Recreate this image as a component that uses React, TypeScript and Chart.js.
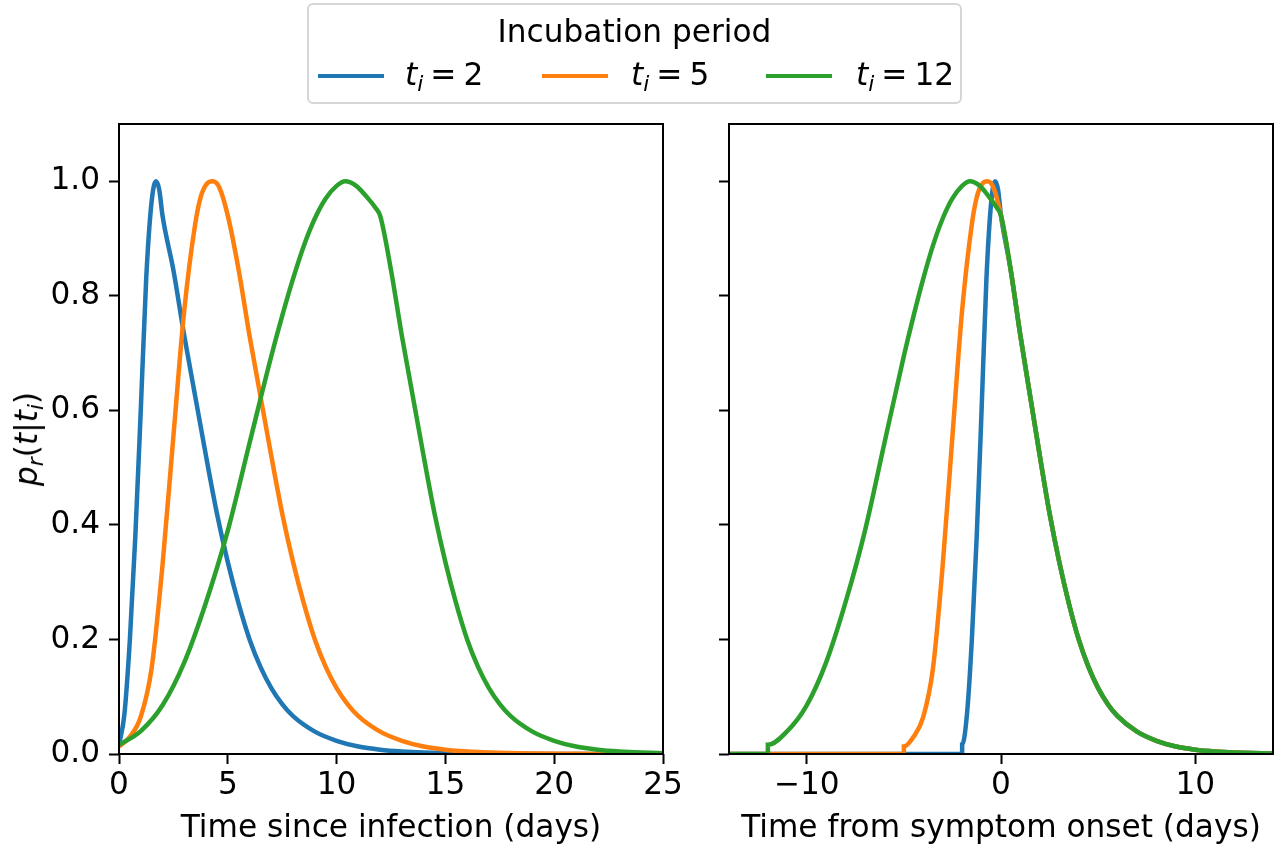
import React, { useEffect, useRef } from 'react';
import { Chart, registerables } from 'chart.js';

Chart.register(...registerables);

const FONT_FAMILY = 'DejaVu Sans';
const FONT_SIZE = 31.2;

const legendTitle = 'Incubation period';
const incubationPeriods = [2, 5, 12];
const seriesColors = ['#1f77b4', '#ff7f0e', '#2ca02c'];

// Before symptom onset (t from 0 up to t_i), read per series
const riseTimeBlue = [0, 0.25, 0.5, 0.75, 1, 1.25, 1.5, 1.7, 1.85];
const riseProbBlue = [0.016, 0.07, 0.2, 0.38, 0.6, 0.83, 0.965, 1.0, 0.985];

const riseTimeOrange = [0, 0.5, 1, 1.5, 2, 2.5, 3, 3.5, 3.75, 4, 4.3, 4.6];
const riseProbOrange = [0.013, 0.03, 0.065, 0.15, 0.33, 0.555, 0.775, 0.925, 0.972, 0.994, 1.0, 0.99];

const riseTimeGreen = [0, 1, 2, 3, 4, 5, 6, 7, 7.5, 8, 8.5, 9, 9.5, 10, 10.4, 10.9, 11.4, 11.8];
const riseProbGreen = [0.016, 0.04, 0.085, 0.16, 0.265, 0.39, 0.543, 0.695, 0.765, 0.83, 0.888, 0.935, 0.97, 0.992, 1.0, 0.992, 0.972, 0.953];

// After symptom onset (days since onset), the three curves coincide
const postOnsetDays = [0, 0.5, 1, 1.5, 2, 2.5, 3, 3.5, 4, 4.5, 5, 5.5, 6, 7, 8, 9, 10, 11, 12, 14, 16, 18, 20, 24];
const postOnsetProb = [0.94, 0.845, 0.73, 0.625, 0.52, 0.42, 0.335, 0.262, 0.2, 0.152, 0.115, 0.087, 0.066, 0.039, 0.023, 0.013, 0.0075, 0.0043, 0.0025, 0.0008, 0.0003, 0.0001, 0, 0];

const riseTimes = [riseTimeBlue, riseTimeOrange, riseTimeGreen];
const riseProbs = [riseProbBlue, riseProbOrange, riseProbGreen];

const leftXTicks = [0, 5, 10, 15, 20, 25];
const rightXTicks = [-10, 0, 10];
const yTicks = [0, 0.2, 0.4, 0.6, 0.8, 1.0];
const leftXRange = [0, 25];
const rightXRange = [-14, 14];
const yRange = [0, 1.1];
const preOnsetStart = -15;
const leftXLabel = 'Time since infection (days)';
const rightXLabel = 'Time from symptom onset (days)';

const font = { family: FONT_FAMILY, size: FONT_SIZE };

const framePlugin = {
  id: 'frame',
  afterDatasetsDraw(chart: any) {
    const { ctx, chartArea } = chart;
    const { left, top, right, bottom } = chartArea;
    ctx.save();
    ctx.strokeStyle = '#000';
    ctx.lineWidth = 2;
    ctx.strokeRect(left, top, right - left, bottom - top);
    ctx.restore();
  },
};

function fmtX(v: number) {
  return v < 0 ? '\u2212' + Math.abs(v) : String(v);
}

// points in "time since infection"
function seriesPoints(k: number) {
  const ti = incubationPeriods[k];
  const rise = riseTimes[k].map((t, j) => ({ x: t, y: riseProbs[k][j] }));
  const post = postOnsetDays.map((d, j) => ({ x: d + ti, y: postOnsetProb[j] }));
  return [...rise, ...post];
}

function buildDatasets(side: 'left' | 'right') {
  return incubationPeriods.map((ti, k) => {
    const pts = seriesPoints(k);
    const data =
      side === 'left'
        ? pts
        : [{ x: preOnsetStart, y: 0 }, { x: -ti, y: 0 }, ...pts.map((p) => ({ x: p.x - ti, y: p.y }))];
    return {
      label: 't_i = ' + ti,
      data,
      borderColor: seriesColors[k],
      backgroundColor: seriesColors[k],
      borderWidth: 4.5,
      pointRadius: 0,
      fill: false,
      cubicInterpolationMode: 'monotone' as const,
      clip: 0,
      order: incubationPeriods.length - k,
    };
  });
}

function buildConfig(side: 'left' | 'right'): any {
  const xTicks = side === 'left' ? leftXTicks : rightXTicks;
  const xRange = side === 'left' ? leftXRange : rightXRange;
  const grid = {
    display: true,
    drawOnChartArea: false,
    drawTicks: true,
    tickLength: 10,
    tickWidth: 2,
    tickColor: '#000',
  };
  return {
    type: 'line',
    data: { datasets: buildDatasets(side) },
    plugins: [framePlugin],
    options: {
      animation: false,
      responsive: false,
      maintainAspectRatio: false,
      devicePixelRatio: 1,
      events: [],
      layout: { padding: { left: 0, right: 27, top: 34, bottom: 0 } },
      plugins: { legend: { display: false }, tooltip: { enabled: false } },
      scales: {
        x: {
          type: 'linear',
          min: xRange[0],
          max: xRange[1],
          afterBuildTicks: (s: any) => {
            s.ticks = xTicks.map((v) => ({ value: v }));
          },
          afterFit: (s: any) => {
            s.height = 101;
          },
          ticks: {
            color: '#000',
            font,
            padding: 3,
            maxRotation: 0,
            autoSkip: false,
            callback: (v: any) => fmtX(Number(v)),
          },
          grid,
          border: { display: false },
          title: {
            display: true,
            text: side === 'left' ? leftXLabel : rightXLabel,
            color: '#000',
            font,
            padding: { top: 0, bottom: 7 },
          },
        },
        y: {
          type: 'linear',
          min: yRange[0],
          max: yRange[1],
          afterBuildTicks: (s: any) => {
            s.ticks = yTicks.map((v) => ({ value: v }));
          },
          afterFit: (s: any) => {
            s.width = side === 'left' ? 119 : 69;
          },
          ticks: {
            display: side === 'left',
            color: '#000',
            font,
            padding: 9,
            callback: (v: any) => Number(v).toFixed(1),
          },
          grid,
          border: { display: false },
        },
      },
    },
  };
}

function Panel({ side, left, width }: { side: 'left' | 'right'; left: number; width: number }) {
  const ref = useRef<HTMLCanvasElement | null>(null);
  useEffect(() => {
    if (!ref.current) return;
    const chart = new Chart(ref.current, buildConfig(side));
    return () => chart.destroy();
  }, [side]);
  return (
    <canvas
      ref={ref}
      width={width}
      height={765}
      style={{ position: 'absolute', left, top: 90, width, height: 765 }}
    />
  );
}

const subStyle: React.CSSProperties = {
  fontSize: '0.7em',
  position: 'relative',
  top: '0.28em',
  fontStyle: 'italic',
};

function MathLabel({ ti }: { ti: number }) {
  return (
    <span style={{ whiteSpace: 'nowrap' }}>
      <i>t</i>
      <span style={subStyle}>i</span>
      <span style={{ margin: '0 7px' }}>=</span>
      {ti}
    </span>
  );
}

const handleLefts = [9, 233, 457];
const textLefts = [96, 322, 547];

export default function App() {
  return (
    <div
      style={{
        position: 'absolute',
        left: 0,
        top: 0,
        width: 1280,
        height: 855,
        background: '#fff',
        overflow: 'hidden',
        fontFamily: FONT_FAMILY,
        color: '#000',
      }}
    >
      <Panel side="left" left={0} width={690} />
      <Panel side="right" left={660} width={640} />
      <div
        style={{
          position: 'absolute',
          left: 28,
          top: 439,
          transform: 'translate(-50%, -50%) rotate(-90deg)',
          fontSize: FONT_SIZE,
          whiteSpace: 'nowrap',
          lineHeight: '36px',
        }}
      >
        <i>p</i>
        <span style={subStyle}>r</span>(<i>t</i>|<i>t</i>
        <span style={subStyle}>i</span>)
      </div>
      <div
        style={{
          position: 'absolute',
          left: 307,
          top: 3,
          width: 655,
          height: 101,
          boxSizing: 'border-box',
          border: '2px solid #d6d6d6',
          borderRadius: 6,
          background: 'rgba(255,255,255,0.8)',
          fontSize: FONT_SIZE,
        }}
      >
        <div
          style={{
            position: 'absolute',
            left: 0,
            right: 0,
            top: 8,
            textAlign: 'center',
            lineHeight: '36px',
          }}
        >
          {legendTitle}
        </div>
        {incubationPeriods.map((ti, k) => (
          <React.Fragment key={ti}>
            <div
              style={{
                position: 'absolute',
                left: handleLefts[k],
                top: 69,
                width: 66,
                height: 4,
                background: seriesColors[k],
              }}
            />
            <div
              style={{
                position: 'absolute',
                left: textLefts[k],
                top: 51,
                lineHeight: '36px',
              }}
            >
              <MathLabel ti={ti} />
            </div>
          </React.Fragment>
        ))}
      </div>
    </div>
  );
}
